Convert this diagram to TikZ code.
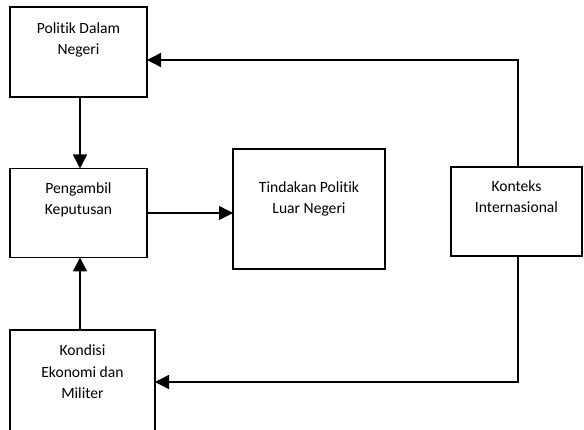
\documentclass[tikz,border=0pt]{standalone}
\usepackage{fontspec}
\setmainfont[Ligatures=NoCommon]{Carlito}
\usetikzlibrary{arrows.meta}
\begin{document}
\begin{tikzpicture}[x=1pt,y=-1pt,
  box/.style={draw, line width=1.5pt, inner sep=0pt, outer sep=0pt, fill=white},
  lbl/.style={anchor=base, align=center, inner sep=0pt, font=\fontsize{15.6}{21.5}\selectfont},
  arr/.style={line width=1.4pt, -{Triangle[length=14pt,width=14pt]}}]
\useasboundingbox (0,0) rectangle (584,430);
% boxes
\node[box, minimum width=137pt, minimum height=90pt] (b1) at (78.5,52) {};
\node[box, minimum width=137pt, minimum height=89pt] (b2) at (78.5,213) {};
\node[box, minimum width=152pt, minimum height=120pt] (b3) at (309,209) {};
\node[box, minimum width=131pt, minimum height=89pt] (b4) at (516.5,211.5) {};
\node[box, minimum width=145pt, minimum height=102pt] (b5) at (82.5,381) {};
% labels (anchored at the baseline of the last line)
\node[lbl] (t1) at (78.5,55) {Politik Dalam\\Negeri};
\node[lbl] (t2) at (78.5,215) {Pengambil\\Keputusan};
\node[lbl] (t3) at (309,214) {Tindakan Politik\\Luar Negeri};
\node[lbl] (t4) at (516.5,213) {Konteks\\Internasional};
\node[lbl] (t5) at (82.5,399) {Kondisi\\Ekonomi dan\\Militer};
% connectors
\coordinate (c1) at (518,60);
\coordinate (c2) at (518,382);
\draw[arr] (b1.south -| 80,0) -- (b2.north -| 80,0);
\draw[arr] (b2.east) -- (b2.east -| b3.west);
\draw[arr] (b5.north -| 80,0) -- (b2.south -| 80,0);
\draw[arr] (b4.north -| c1) -- (c1) -- (c1 -| b1.east);
\draw[arr] (b4.south -| c2) -- (c2) -- (c2 -| b5.east);
\end{tikzpicture}
\end{document}
